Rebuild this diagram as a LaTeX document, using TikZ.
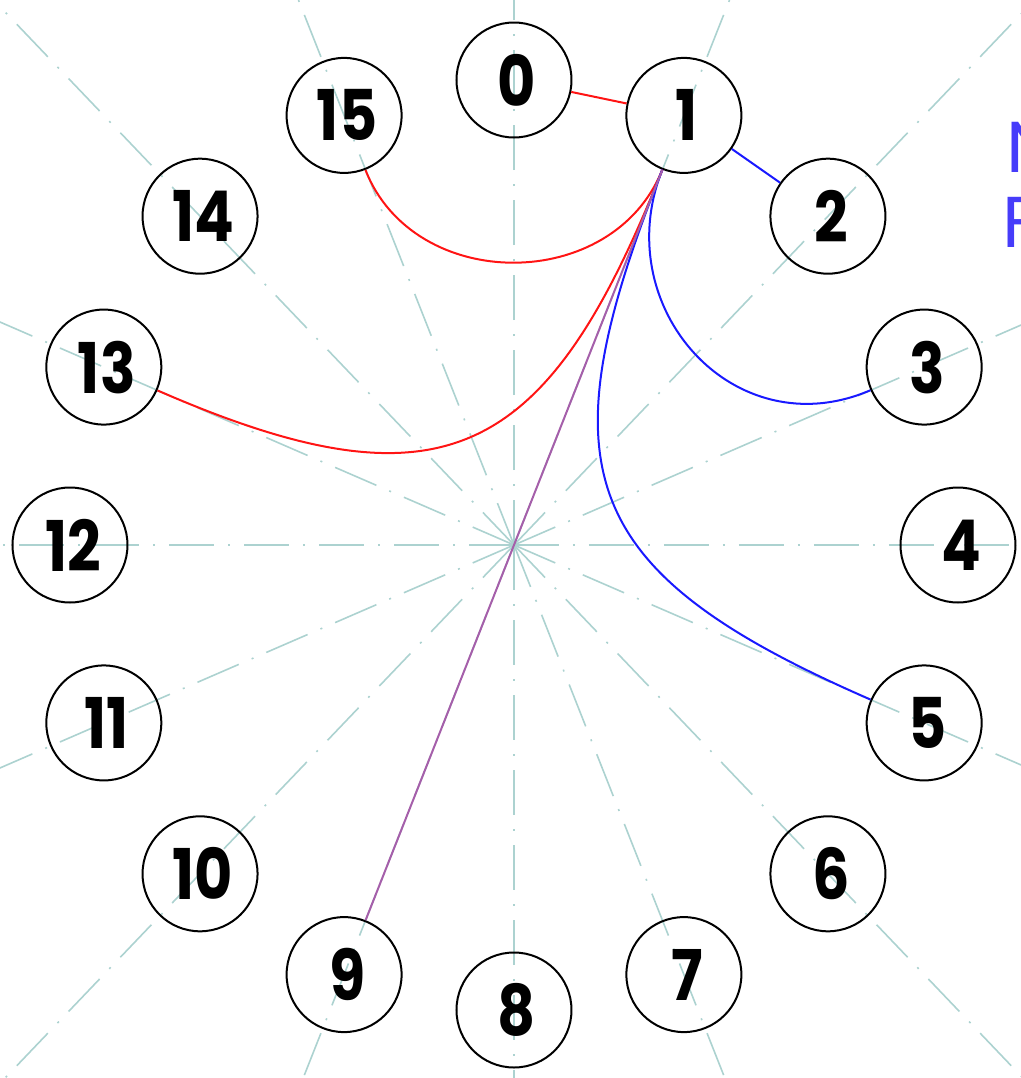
\documentclass[tikz,border=0pt]{standalone}
\usepackage{fontspec}
\newfontfamily\numfont{Poppins}[FakeStretch=0.84]
\newfontfamily\lblfont{Poppins}
\definecolor{raycol}{RGB}{172,210,208}
\definecolor{lred}{RGB}{255,20,20}
\definecolor{lblue}{RGB}{25,25,255}
\definecolor{purp}{RGB}{165,95,170}
\definecolor{txtblue}{RGB}{70,60,250}
\begin{document}
\begin{tikzpicture}[x=0.5pt,y=0.5pt,
  nd/.style={circle,draw=black,line width=1pt,minimum size=57.5pt,inner sep=0pt,
    font=\numfont\bfseries\fontsize{35}{40}\selectfont},
  ray/.style={draw=raycol,line width=0.8pt,dash pattern=on 22.5pt off 7pt on 1pt off 7pt},
  redl/.style={draw=lred,line width=1pt},
  bluel/.style={draw=lblue,line width=1pt},
  purl/.style={draw=purp,line width=1pt},
  lbl/.style={text=txtblue,font=\lblfont\fontsize{36}{40}\selectfont,inner sep=0pt,anchor=base west}]
\useasboundingbox (-514,-533) rectangle (507,545);
\clip (-514,-533) rectangle (507,545);
\coordinate (c) at (0,0);
\foreach \k in {0,...,15}{
  \coordinate (e\k) at ({3*444*sin(\k*22.5)},{3*465*cos(\k*22.5)});
  \draw[ray] (c) -- (e\k);
}
\foreach \k in {0,...,15}{
  \node[nd] (n\k) at ({444*sin(\k*22.5)},{465*cos(\k*22.5)}) {\hspace{3pt}\k};
}
\draw[redl] (n0) -- (n1);
\draw[bluel] (n1) -- (n2);
\draw[redl] (n1) to[out=248.42,in=291.58,looseness=1.15] (n15);
\draw[redl] (n1) to[out=248.42,in=336.55,looseness=1.45] (n13);
\draw[bluel] (n1) to[out=248.42,in=203.45,looseness=1.25] (n3);
\draw[bluel] (n1) to[out=248.42,in=156.55,looseness=1.45] (n5);
\draw[purl] (n1) -- (n9);
\node[lbl] (tN) at (492,373) {N};
\node[lbl] (tF) at (488,298) {F};
\end{tikzpicture}
\end{document}
